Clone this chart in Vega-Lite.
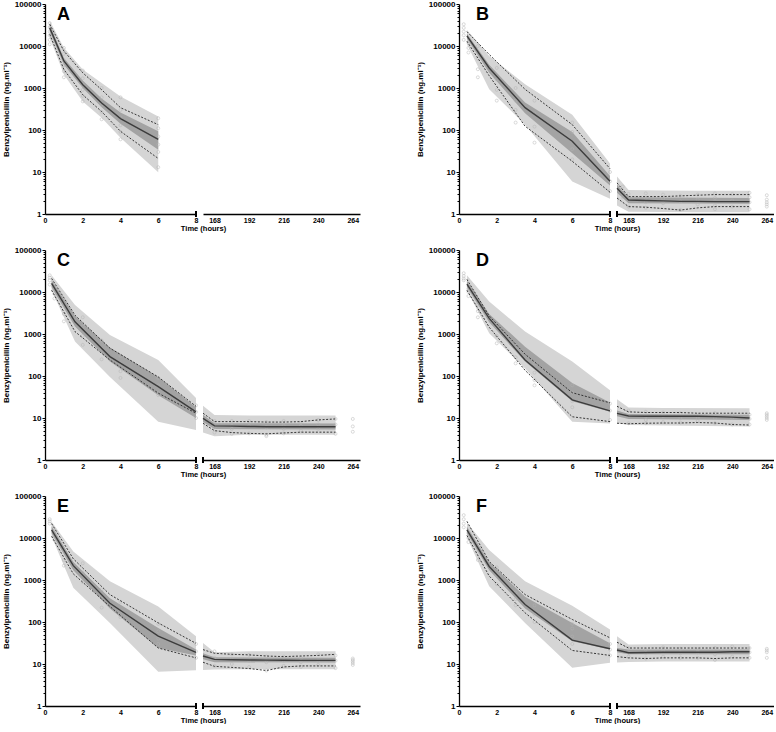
{
  "$schema": "https://vega.github.io/schema/vega-lite/v6.json",
  "padding": {"left": 2, "top": 0, "right": 0, "bottom": 0},
  "config": {
    "view": {"stroke": null},
    "font": "Liberation Sans",
    "axis": {
      "grid": false, "labelFont": "Liberation Sans", "labelFontWeight": "bold", "labelFontSize": 8, "labelColor": "black",
      "titleFont": "Liberation Sans", "titleFontWeight": "bold", "titleFontSize": 8, "titleColor": "black",
      "domainColor": "black", "domainWidth": 1.3, "tickColor": "black", "tickWidth": 1, "labelFlush": false, "labelOverlap": false
    },
    "axisX": {"ticks": false, "labelPadding": 2, "labelFontSize": 7, "titleFontSize": 7.5, "titleX": 158, "titleY": 16.5, "titleAlign": "center", "titleBaseline": "alphabetic"},
    "title": {"anchor": "start", "frame": "group", "offset": -24, "baseline": "alphabetic", "fontSize": 18, "fontWeight": "bold", "font": "Liberation Sans", "color": "black"}
  },
  "data": {"values": [
    {"p":"A","s":0,"k":"pi","t":0.25,"y":16000,"y2":40000},{"p":"A","s":0,"k":"pi","t":1,"y":2100,"y2":9100},{"p":"A","s":0,"k":"pi","t":2,"y":480,"y2":2760},{"p":"A","s":0,"k":"pi","t":3,"y":195,"y2":1320},{"p":"A","s":0,"k":"pi","t":4,"y":65,"y2":630},{"p":"A","s":0,"k":"pi","t":6,"y":9.8,"y2":210},
    {"p":"A","s":0,"k":"ci","t":0.25,"y":22000,"y2":32000},{"p":"A","s":0,"k":"ci","t":1,"y":3600,"y2":5200},{"p":"A","s":0,"k":"ci","t":2,"y":1000,"y2":1500},{"p":"A","s":0,"k":"ci","t":3,"y":350,"y2":560},{"p":"A","s":0,"k":"ci","t":4,"y":140,"y2":260},{"p":"A","s":0,"k":"ci","t":6,"y":34,"y2":93},
    {"p":"A","s":0,"k":"med","t":0.25,"y":27000},{"p":"A","s":0,"k":"med","t":1,"y":4400},{"p":"A","s":0,"k":"med","t":2,"y":1200},{"p":"A","s":0,"k":"med","t":3,"y":440},{"p":"A","s":0,"k":"med","t":4,"y":187},{"p":"A","s":0,"k":"med","t":6,"y":60},
    {"p":"A","s":0,"k":"up","t":0.25,"y":33000},{"p":"A","s":0,"k":"up","t":1,"y":7600},{"p":"A","s":0,"k":"up","t":2,"y":2300},{"p":"A","s":0,"k":"up","t":3,"y":910},{"p":"A","s":0,"k":"up","t":4,"y":340},{"p":"A","s":0,"k":"up","t":6,"y":134},
    {"p":"A","s":0,"k":"dn","t":0.25,"y":19000},{"p":"A","s":0,"k":"dn","t":1,"y":2760},{"p":"A","s":0,"k":"dn","t":2,"y":690},{"p":"A","s":0,"k":"dn","t":3,"y":275},{"p":"A","s":0,"k":"dn","t":4,"y":93},{"p":"A","s":0,"k":"dn","t":6,"y":21},
    {"p":"A","s":0,"k":"obs","t":0.25,"y":35000},{"p":"A","s":0,"k":"obs","t":0.25,"y":28000},{"p":"A","s":0,"k":"obs","t":0.25,"y":22000},{"p":"A","s":0,"k":"obs","t":0.25,"y":18000},{"p":"A","s":0,"k":"obs","t":0.25,"y":14000},{"p":"A","s":0,"k":"obs","t":0.25,"y":11000},
    {"p":"A","s":0,"k":"obs","t":1,"y":9000},{"p":"A","s":0,"k":"obs","t":1,"y":6500},{"p":"A","s":0,"k":"obs","t":1,"y":4500},{"p":"A","s":0,"k":"obs","t":1,"y":3500},{"p":"A","s":0,"k":"obs","t":1,"y":2500},{"p":"A","s":0,"k":"obs","t":1,"y":1800},
    {"p":"A","s":0,"k":"obs","t":2,"y":2600},{"p":"A","s":0,"k":"obs","t":2,"y":1700},{"p":"A","s":0,"k":"obs","t":2,"y":1200},{"p":"A","s":0,"k":"obs","t":2,"y":900},{"p":"A","s":0,"k":"obs","t":2,"y":650},{"p":"A","s":0,"k":"obs","t":2,"y":480},
    {"p":"A","s":0,"k":"obs","t":3,"y":1000},{"p":"A","s":0,"k":"obs","t":3,"y":600},{"p":"A","s":0,"k":"obs","t":3,"y":400},{"p":"A","s":0,"k":"obs","t":3,"y":270},{"p":"A","s":0,"k":"obs","t":3,"y":180},
    {"p":"A","s":0,"k":"obs","t":4,"y":600},{"p":"A","s":0,"k":"obs","t":4,"y":300},{"p":"A","s":0,"k":"obs","t":4,"y":200},{"p":"A","s":0,"k":"obs","t":4,"y":130},{"p":"A","s":0,"k":"obs","t":4,"y":90},{"p":"A","s":0,"k":"obs","t":4,"y":60},
    {"p":"A","s":0,"k":"obs","t":6,"y":190},{"p":"A","s":0,"k":"obs","t":6,"y":110},{"p":"A","s":0,"k":"obs","t":6,"y":70},{"p":"A","s":0,"k":"obs","t":6,"y":45},{"p":"A","s":0,"k":"obs","t":6,"y":30},{"p":"A","s":0,"k":"obs","t":6,"y":13},

    {"p":"B","s":0,"k":"pi","t":0.42,"y":11000,"y2":24000},{"p":"B","s":0,"k":"pi","t":1.6,"y":930,"y2":5800},{"p":"B","s":0,"k":"pi","t":3.5,"y":134,"y2":1230},{"p":"B","s":0,"k":"pi","t":6,"y":5.9,"y2":230},{"p":"B","s":0,"k":"pi","t":8,"y":2.3,"y2":16},
    {"p":"B","s":0,"k":"ci","t":0.42,"y":15000,"y2":19500},{"p":"B","s":0,"k":"ci","t":1.6,"y":2300,"y2":3600},{"p":"B","s":0,"k":"ci","t":3.5,"y":250,"y2":450},{"p":"B","s":0,"k":"ci","t":6,"y":28,"y2":90},{"p":"B","s":0,"k":"ci","t":8,"y":4.8,"y2":8},
    {"p":"B","s":0,"k":"med","t":0.42,"y":17400},{"p":"B","s":0,"k":"med","t":1.6,"y":3000},{"p":"B","s":0,"k":"med","t":3.5,"y":340},{"p":"B","s":0,"k":"med","t":6,"y":54},{"p":"B","s":0,"k":"med","t":8,"y":6},
    {"p":"B","s":0,"k":"up","t":0.42,"y":22000},{"p":"B","s":0,"k":"up","t":1.6,"y":6300},{"p":"B","s":0,"k":"up","t":3.5,"y":930},{"p":"B","s":0,"k":"up","t":6,"y":134},{"p":"B","s":0,"k":"up","t":8,"y":12},
    {"p":"B","s":0,"k":"dn","t":0.42,"y":13000},{"p":"B","s":0,"k":"dn","t":1.6,"y":1960},{"p":"B","s":0,"k":"dn","t":3.5,"y":123},{"p":"B","s":0,"k":"dn","t":6,"y":18},{"p":"B","s":0,"k":"dn","t":8,"y":3.3},
    {"p":"B","s":0,"k":"obs","t":0.25,"y":33000},{"p":"B","s":0,"k":"obs","t":0.25,"y":27000},{"p":"B","s":0,"k":"obs","t":0.25,"y":22000},{"p":"B","s":0,"k":"obs","t":0.25,"y":18000},{"p":"B","s":0,"k":"obs","t":0.25,"y":14000},
    {"p":"B","s":0,"k":"obs","t":0.5,"y":12000},{"p":"B","s":0,"k":"obs","t":0.5,"y":9000},{"p":"B","s":0,"k":"obs","t":0.5,"y":7000},
    {"p":"B","s":0,"k":"obs","t":1,"y":10000},{"p":"B","s":0,"k":"obs","t":1,"y":5000},{"p":"B","s":0,"k":"obs","t":1,"y":2800},{"p":"B","s":0,"k":"obs","t":1,"y":1800},
    {"p":"B","s":0,"k":"obs","t":2,"y":3000},{"p":"B","s":0,"k":"obs","t":2,"y":1600},{"p":"B","s":0,"k":"obs","t":2,"y":900},{"p":"B","s":0,"k":"obs","t":2,"y":500},
    {"p":"B","s":0,"k":"obs","t":3,"y":1000},{"p":"B","s":0,"k":"obs","t":3,"y":500},{"p":"B","s":0,"k":"obs","t":3,"y":300},{"p":"B","s":0,"k":"obs","t":3,"y":150},
    {"p":"B","s":0,"k":"obs","t":4,"y":500},{"p":"B","s":0,"k":"obs","t":4,"y":250},{"p":"B","s":0,"k":"obs","t":4,"y":120},{"p":"B","s":0,"k":"obs","t":4,"y":50},
    {"p":"B","s":0,"k":"obs","t":6,"y":150},{"p":"B","s":0,"k":"obs","t":6,"y":90},{"p":"B","s":0,"k":"obs","t":6,"y":35},{"p":"B","s":0,"k":"obs","t":6,"y":20},
    {"p":"B","s":0,"k":"obs","t":8,"y":10},{"p":"B","s":0,"k":"obs","t":8,"y":6},{"p":"B","s":0,"k":"obs","t":8,"y":3.5},
    {"p":"B","s":1,"k":"pi","t":160,"y":1.6,"y2":7.8},{"p":"B","s":1,"k":"pi","t":168,"y":1.13,"y2":3.75},{"p":"B","s":1,"k":"pi","t":192,"y":1.12,"y2":3.65},{"p":"B","s":1,"k":"pi","t":216,"y":1.1,"y2":3.6},{"p":"B","s":1,"k":"pi","t":252,"y":1.1,"y2":3.6},
    {"p":"B","s":1,"k":"ci","t":160,"y":3.2,"y2":5},{"p":"B","s":1,"k":"ci","t":168,"y":1.8,"y2":2.5},{"p":"B","s":1,"k":"ci","t":252,"y":1.75,"y2":2.4},
    {"p":"B","s":1,"k":"med","t":160,"y":4.1},{"p":"B","s":1,"k":"med","t":168,"y":2.16},{"p":"B","s":1,"k":"med","t":180,"y":2.1},{"p":"B","s":1,"k":"med","t":192,"y":2.05},{"p":"B","s":1,"k":"med","t":204,"y":2.0},{"p":"B","s":1,"k":"med","t":216,"y":2.0},{"p":"B","s":1,"k":"med","t":228,"y":1.97},{"p":"B","s":1,"k":"med","t":240,"y":1.97},{"p":"B","s":1,"k":"med","t":252,"y":1.97},
    {"p":"B","s":1,"k":"up","t":160,"y":5.5},{"p":"B","s":1,"k":"up","t":168,"y":2.6},{"p":"B","s":1,"k":"up","t":180,"y":2.6},{"p":"B","s":1,"k":"up","t":192,"y":2.6},{"p":"B","s":1,"k":"up","t":204,"y":2.7},{"p":"B","s":1,"k":"up","t":216,"y":2.8},{"p":"B","s":1,"k":"up","t":228,"y":2.9},{"p":"B","s":1,"k":"up","t":240,"y":2.9},{"p":"B","s":1,"k":"up","t":252,"y":2.9},
    {"p":"B","s":1,"k":"dn","t":160,"y":2.4},{"p":"B","s":1,"k":"dn","t":168,"y":1.5},{"p":"B","s":1,"k":"dn","t":180,"y":1.45},{"p":"B","s":1,"k":"dn","t":192,"y":1.35},{"p":"B","s":1,"k":"dn","t":204,"y":1.24},{"p":"B","s":1,"k":"dn","t":216,"y":1.4},{"p":"B","s":1,"k":"dn","t":228,"y":1.5},{"p":"B","s":1,"k":"dn","t":240,"y":1.5},{"p":"B","s":1,"k":"dn","t":252,"y":1.5},
    {"p":"B","s":1,"k":"obs","t":164,"y":4.5},{"p":"B","s":1,"k":"obs","t":164,"y":3.5},{"p":"B","s":1,"k":"obs","t":164,"y":2.5},
    {"p":"B","s":1,"k":"obs","t":168,"y":3.0},{"p":"B","s":1,"k":"obs","t":168,"y":2.2},{"p":"B","s":1,"k":"obs","t":168,"y":1.5},
    {"p":"B","s":1,"k":"obs","t":180,"y":3.1},{"p":"B","s":1,"k":"obs","t":180,"y":2.4},{"p":"B","s":1,"k":"obs","t":180,"y":1.9},{"p":"B","s":1,"k":"obs","t":180,"y":1.4},
    {"p":"B","s":1,"k":"obs","t":192,"y":2.9},{"p":"B","s":1,"k":"obs","t":192,"y":2.3},{"p":"B","s":1,"k":"obs","t":192,"y":1.8},
    {"p":"B","s":1,"k":"obs","t":204,"y":2.7},{"p":"B","s":1,"k":"obs","t":204,"y":2.0},{"p":"B","s":1,"k":"obs","t":204,"y":1.25},
    {"p":"B","s":1,"k":"obs","t":216,"y":2.9},{"p":"B","s":1,"k":"obs","t":216,"y":2.2},{"p":"B","s":1,"k":"obs","t":216,"y":1.7},
    {"p":"B","s":1,"k":"obs","t":228,"y":3.1},{"p":"B","s":1,"k":"obs","t":228,"y":2.4},{"p":"B","s":1,"k":"obs","t":228,"y":1.6},{"p":"B","s":1,"k":"obs","t":228,"y":1.3},
    {"p":"B","s":1,"k":"obs","t":240,"y":3.0},{"p":"B","s":1,"k":"obs","t":240,"y":2.1},{"p":"B","s":1,"k":"obs","t":240,"y":1.5},
    {"p":"B","s":1,"k":"obs","t":252,"y":3.2},{"p":"B","s":1,"k":"obs","t":252,"y":2.5},{"p":"B","s":1,"k":"obs","t":252,"y":1.9},{"p":"B","s":1,"k":"obs","t":252,"y":1.3},
    {"p":"B","s":1,"k":"obs","t":264,"y":2.8},{"p":"B","s":1,"k":"obs","t":264,"y":2.2},{"p":"B","s":1,"k":"obs","t":264,"y":1.9},{"p":"B","s":1,"k":"obs","t":264,"y":1.7},{"p":"B","s":1,"k":"obs","t":264,"y":1.5},

    {"p":"C","s":0,"k":"pi","t":0.35,"y":11000,"y2":25000},{"p":"C","s":0,"k":"pi","t":1.59,"y":660,"y2":4900},{"p":"C","s":0,"k":"pi","t":3.44,"y":95,"y2":950},{"p":"C","s":0,"k":"pi","t":6,"y":8.1,"y2":240},{"p":"C","s":0,"k":"pi","t":8,"y":5.2,"y2":30},
    {"p":"C","s":0,"k":"ci","t":0.35,"y":13000,"y2":19000},{"p":"C","s":0,"k":"ci","t":1.59,"y":1500,"y2":2700},{"p":"C","s":0,"k":"ci","t":3.44,"y":220,"y2":480},{"p":"C","s":0,"k":"ci","t":6,"y":35,"y2":95},{"p":"C","s":0,"k":"ci","t":8,"y":10,"y2":18},
    {"p":"C","s":0,"k":"med","t":0.35,"y":16000},{"p":"C","s":0,"k":"med","t":1.59,"y":1950},{"p":"C","s":0,"k":"med","t":3.44,"y":290},{"p":"C","s":0,"k":"med","t":6,"y":56},{"p":"C","s":0,"k":"med","t":8,"y":14},
    {"p":"C","s":0,"k":"up","t":0.35,"y":21000},{"p":"C","s":0,"k":"up","t":1.59,"y":2800},{"p":"C","s":0,"k":"up","t":3.44,"y":460},{"p":"C","s":0,"k":"up","t":6,"y":95},{"p":"C","s":0,"k":"up","t":8,"y":19},
    {"p":"C","s":0,"k":"dn","t":0.35,"y":11000},{"p":"C","s":0,"k":"dn","t":1.59,"y":1140},{"p":"C","s":0,"k":"dn","t":3.44,"y":240},{"p":"C","s":0,"k":"dn","t":6,"y":39},{"p":"C","s":0,"k":"dn","t":8,"y":13},
    {"p":"C","s":0,"k":"obs","t":0.25,"y":25000},{"p":"C","s":0,"k":"obs","t":0.25,"y":22000},{"p":"C","s":0,"k":"obs","t":0.25,"y":19000},{"p":"C","s":0,"k":"obs","t":0.25,"y":15000},
    {"p":"C","s":0,"k":"obs","t":0.5,"y":12000},{"p":"C","s":0,"k":"obs","t":0.5,"y":9000},{"p":"C","s":0,"k":"obs","t":0.5,"y":7000},
    {"p":"C","s":0,"k":"obs","t":1,"y":5000},{"p":"C","s":0,"k":"obs","t":1,"y":3000},{"p":"C","s":0,"k":"obs","t":1,"y":2000},
    {"p":"C","s":0,"k":"obs","t":2,"y":2500},{"p":"C","s":0,"k":"obs","t":2,"y":1500},{"p":"C","s":0,"k":"obs","t":2,"y":900},{"p":"C","s":0,"k":"obs","t":2,"y":550},
    {"p":"C","s":0,"k":"obs","t":3,"y":700},{"p":"C","s":0,"k":"obs","t":3,"y":450},{"p":"C","s":0,"k":"obs","t":3,"y":250},
    {"p":"C","s":0,"k":"obs","t":4,"y":300},{"p":"C","s":0,"k":"obs","t":4,"y":200},{"p":"C","s":0,"k":"obs","t":4,"y":130},{"p":"C","s":0,"k":"obs","t":4,"y":90},
    {"p":"C","s":0,"k":"obs","t":6,"y":90},{"p":"C","s":0,"k":"obs","t":6,"y":60},{"p":"C","s":0,"k":"obs","t":6,"y":40},{"p":"C","s":0,"k":"obs","t":6,"y":35},
    {"p":"C","s":0,"k":"obs","t":8,"y":20},{"p":"C","s":0,"k":"obs","t":8,"y":14},{"p":"C","s":0,"k":"obs","t":8,"y":10},
    {"p":"C","s":1,"k":"pi","t":160,"y":4.5,"y2":19.5},{"p":"C","s":1,"k":"pi","t":168,"y":3.7,"y2":11.8},{"p":"C","s":1,"k":"pi","t":192,"y":4.0,"y2":11.5},{"p":"C","s":1,"k":"pi","t":252,"y":4.0,"y2":11.5},
    {"p":"C","s":1,"k":"ci","t":160,"y":8,"y2":12},{"p":"C","s":1,"k":"ci","t":168,"y":5.5,"y2":7.5},{"p":"C","s":1,"k":"ci","t":252,"y":5.3,"y2":7.4},
    {"p":"C","s":1,"k":"med","t":160,"y":9.8},{"p":"C","s":1,"k":"med","t":168,"y":6.5},{"p":"C","s":1,"k":"med","t":180,"y":6.4},{"p":"C","s":1,"k":"med","t":192,"y":6.3},{"p":"C","s":1,"k":"med","t":204,"y":6.2},{"p":"C","s":1,"k":"med","t":216,"y":6.2},{"p":"C","s":1,"k":"med","t":228,"y":6.2},{"p":"C","s":1,"k":"med","t":240,"y":6.2},{"p":"C","s":1,"k":"med","t":252,"y":6.2},
    {"p":"C","s":1,"k":"up","t":160,"y":13},{"p":"C","s":1,"k":"up","t":168,"y":8.2},{"p":"C","s":1,"k":"up","t":180,"y":8.2},{"p":"C","s":1,"k":"up","t":192,"y":8.2},{"p":"C","s":1,"k":"up","t":204,"y":8.0},{"p":"C","s":1,"k":"up","t":216,"y":8.0},{"p":"C","s":1,"k":"up","t":228,"y":8.2},{"p":"C","s":1,"k":"up","t":240,"y":9.0},{"p":"C","s":1,"k":"up","t":252,"y":9.5},
    {"p":"C","s":1,"k":"dn","t":160,"y":7.5},{"p":"C","s":1,"k":"dn","t":168,"y":5},{"p":"C","s":1,"k":"dn","t":180,"y":4.5},{"p":"C","s":1,"k":"dn","t":192,"y":4.3},{"p":"C","s":1,"k":"dn","t":204,"y":4.2},{"p":"C","s":1,"k":"dn","t":216,"y":4.4},{"p":"C","s":1,"k":"dn","t":228,"y":4.6},{"p":"C","s":1,"k":"dn","t":240,"y":4.6},{"p":"C","s":1,"k":"dn","t":252,"y":4.6},
    {"p":"C","s":1,"k":"obs","t":168,"y":8.5},{"p":"C","s":1,"k":"obs","t":168,"y":6},{"p":"C","s":1,"k":"obs","t":168,"y":4.5},
    {"p":"C","s":1,"k":"obs","t":180,"y":8.5},{"p":"C","s":1,"k":"obs","t":180,"y":6.5},{"p":"C","s":1,"k":"obs","t":180,"y":5.5},{"p":"C","s":1,"k":"obs","t":180,"y":4.2},
    {"p":"C","s":1,"k":"obs","t":192,"y":8.5},{"p":"C","s":1,"k":"obs","t":192,"y":6.5},{"p":"C","s":1,"k":"obs","t":192,"y":4.3},
    {"p":"C","s":1,"k":"obs","t":204,"y":8},{"p":"C","s":1,"k":"obs","t":204,"y":6},{"p":"C","s":1,"k":"obs","t":204,"y":4},{"p":"C","s":1,"k":"obs","t":204,"y":3.7},
    {"p":"C","s":1,"k":"obs","t":216,"y":8.5},{"p":"C","s":1,"k":"obs","t":216,"y":6.5},{"p":"C","s":1,"k":"obs","t":216,"y":5.5},{"p":"C","s":1,"k":"obs","t":216,"y":4.3},
    {"p":"C","s":1,"k":"obs","t":228,"y":7.5},{"p":"C","s":1,"k":"obs","t":228,"y":6.5},{"p":"C","s":1,"k":"obs","t":228,"y":5},
    {"p":"C","s":1,"k":"obs","t":240,"y":9},{"p":"C","s":1,"k":"obs","t":240,"y":7},{"p":"C","s":1,"k":"obs","t":240,"y":5.5},
    {"p":"C","s":1,"k":"obs","t":252,"y":9.5},{"p":"C","s":1,"k":"obs","t":252,"y":7},{"p":"C","s":1,"k":"obs","t":252,"y":4.2},
    {"p":"C","s":1,"k":"obs","t":264,"y":9.5},{"p":"C","s":1,"k":"obs","t":264,"y":6.3},{"p":"C","s":1,"k":"obs","t":264,"y":4.7},

    {"p":"D","s":0,"k":"pi","t":0.42,"y":11000,"y2":25000},{"p":"D","s":0,"k":"pi","t":1.6,"y":1040,"y2":5900},{"p":"D","s":0,"k":"pi","t":3.5,"y":150,"y2":1150},{"p":"D","s":0,"k":"pi","t":6,"y":8.1,"y2":220},{"p":"D","s":0,"k":"pi","t":8,"y":7.4,"y2":46},
    {"p":"D","s":0,"k":"ci","t":0.42,"y":13000,"y2":18500},{"p":"D","s":0,"k":"ci","t":1.6,"y":1900,"y2":3000},{"p":"D","s":0,"k":"ci","t":3.5,"y":220,"y2":500},{"p":"D","s":0,"k":"ci","t":6,"y":25,"y2":68},{"p":"D","s":0,"k":"ci","t":8,"y":14,"y2":23.5},
    {"p":"D","s":0,"k":"med","t":0.42,"y":15500},{"p":"D","s":0,"k":"med","t":1.6,"y":2350},{"p":"D","s":0,"k":"med","t":3.5,"y":240},{"p":"D","s":0,"k":"med","t":6,"y":27},{"p":"D","s":0,"k":"med","t":8,"y":14.8},
    {"p":"D","s":0,"k":"up","t":0.42,"y":20000},{"p":"D","s":0,"k":"up","t":1.6,"y":2700},{"p":"D","s":0,"k":"up","t":3.5,"y":330},{"p":"D","s":0,"k":"up","t":6,"y":40},{"p":"D","s":0,"k":"up","t":8,"y":23},
    {"p":"D","s":0,"k":"dn","t":0.42,"y":11000},{"p":"D","s":0,"k":"dn","t":1.6,"y":1450},{"p":"D","s":0,"k":"dn","t":3.5,"y":137},{"p":"D","s":0,"k":"dn","t":6,"y":10.7},{"p":"D","s":0,"k":"dn","t":8,"y":8.2},
    {"p":"D","s":0,"k":"obs","t":0.25,"y":28000},{"p":"D","s":0,"k":"obs","t":0.25,"y":24000},{"p":"D","s":0,"k":"obs","t":0.25,"y":21000},{"p":"D","s":0,"k":"obs","t":0.25,"y":19000},
    {"p":"D","s":0,"k":"obs","t":0.5,"y":12000},{"p":"D","s":0,"k":"obs","t":0.5,"y":10000},{"p":"D","s":0,"k":"obs","t":0.5,"y":8000},
    {"p":"D","s":0,"k":"obs","t":1,"y":5000},{"p":"D","s":0,"k":"obs","t":1,"y":3500},{"p":"D","s":0,"k":"obs","t":1,"y":2500},
    {"p":"D","s":0,"k":"obs","t":2,"y":1500},{"p":"D","s":0,"k":"obs","t":2,"y":900},{"p":"D","s":0,"k":"obs","t":2,"y":600},
    {"p":"D","s":0,"k":"obs","t":3,"y":450},{"p":"D","s":0,"k":"obs","t":3,"y":280},{"p":"D","s":0,"k":"obs","t":3,"y":200},
    {"p":"D","s":0,"k":"obs","t":4,"y":200},{"p":"D","s":0,"k":"obs","t":4,"y":120},{"p":"D","s":0,"k":"obs","t":4,"y":80},{"p":"D","s":0,"k":"obs","t":4,"y":60},
    {"p":"D","s":0,"k":"obs","t":6,"y":60},{"p":"D","s":0,"k":"obs","t":6,"y":40},{"p":"D","s":0,"k":"obs","t":6,"y":25},{"p":"D","s":0,"k":"obs","t":6,"y":18},
    {"p":"D","s":0,"k":"obs","t":8,"y":22},{"p":"D","s":0,"k":"obs","t":8,"y":15},{"p":"D","s":0,"k":"obs","t":8,"y":9},
    {"p":"D","s":1,"k":"pi","t":160,"y":7.5,"y2":28},{"p":"D","s":1,"k":"pi","t":168,"y":6.8,"y2":17.8},{"p":"D","s":1,"k":"pi","t":192,"y":6.6,"y2":17.2},{"p":"D","s":1,"k":"pi","t":252,"y":6.3,"y2":17},
    {"p":"D","s":1,"k":"ci","t":160,"y":11,"y2":15},{"p":"D","s":1,"k":"ci","t":168,"y":9.5,"y2":12.5},{"p":"D","s":1,"k":"ci","t":252,"y":9.0,"y2":12},
    {"p":"D","s":1,"k":"med","t":160,"y":12.9},{"p":"D","s":1,"k":"med","t":168,"y":11.2},{"p":"D","s":1,"k":"med","t":180,"y":11},{"p":"D","s":1,"k":"med","t":192,"y":11},{"p":"D","s":1,"k":"med","t":204,"y":11},{"p":"D","s":1,"k":"med","t":216,"y":11},{"p":"D","s":1,"k":"med","t":228,"y":10.8},{"p":"D","s":1,"k":"med","t":240,"y":10.5},{"p":"D","s":1,"k":"med","t":252,"y":10},
    {"p":"D","s":1,"k":"up","t":160,"y":19},{"p":"D","s":1,"k":"up","t":168,"y":14},{"p":"D","s":1,"k":"up","t":180,"y":13.5},{"p":"D","s":1,"k":"up","t":192,"y":13.5},{"p":"D","s":1,"k":"up","t":204,"y":13.5},{"p":"D","s":1,"k":"up","t":216,"y":13},{"p":"D","s":1,"k":"up","t":228,"y":13},{"p":"D","s":1,"k":"up","t":240,"y":13},{"p":"D","s":1,"k":"up","t":252,"y":13},
    {"p":"D","s":1,"k":"dn","t":160,"y":7.5},{"p":"D","s":1,"k":"dn","t":168,"y":7.3},{"p":"D","s":1,"k":"dn","t":180,"y":7.5},{"p":"D","s":1,"k":"dn","t":192,"y":7.6},{"p":"D","s":1,"k":"dn","t":204,"y":7.6},{"p":"D","s":1,"k":"dn","t":216,"y":7.8},{"p":"D","s":1,"k":"dn","t":228,"y":7.6},{"p":"D","s":1,"k":"dn","t":240,"y":7.0},{"p":"D","s":1,"k":"dn","t":252,"y":6.8},
    {"p":"D","s":1,"k":"obs","t":168,"y":15},{"p":"D","s":1,"k":"obs","t":168,"y":11},{"p":"D","s":1,"k":"obs","t":168,"y":7.5},
    {"p":"D","s":1,"k":"obs","t":180,"y":14},{"p":"D","s":1,"k":"obs","t":180,"y":11},{"p":"D","s":1,"k":"obs","t":180,"y":9},{"p":"D","s":1,"k":"obs","t":180,"y":7.5},
    {"p":"D","s":1,"k":"obs","t":192,"y":13.5},{"p":"D","s":1,"k":"obs","t":192,"y":11},{"p":"D","s":1,"k":"obs","t":192,"y":8},
    {"p":"D","s":1,"k":"obs","t":204,"y":13},{"p":"D","s":1,"k":"obs","t":204,"y":10},{"p":"D","s":1,"k":"obs","t":204,"y":7.8},
    {"p":"D","s":1,"k":"obs","t":216,"y":12},{"p":"D","s":1,"k":"obs","t":216,"y":10},{"p":"D","s":1,"k":"obs","t":216,"y":8.5},
    {"p":"D","s":1,"k":"obs","t":228,"y":13},{"p":"D","s":1,"k":"obs","t":228,"y":10},{"p":"D","s":1,"k":"obs","t":228,"y":7.5},
    {"p":"D","s":1,"k":"obs","t":240,"y":12.5},{"p":"D","s":1,"k":"obs","t":240,"y":10},{"p":"D","s":1,"k":"obs","t":240,"y":7},
    {"p":"D","s":1,"k":"obs","t":252,"y":12},{"p":"D","s":1,"k":"obs","t":252,"y":9.5},{"p":"D","s":1,"k":"obs","t":252,"y":7},
    {"p":"D","s":1,"k":"obs","t":264,"y":13},{"p":"D","s":1,"k":"obs","t":264,"y":12},{"p":"D","s":1,"k":"obs","t":264,"y":11},{"p":"D","s":1,"k":"obs","t":264,"y":10},{"p":"D","s":1,"k":"obs","t":264,"y":9},

    {"p":"E","s":0,"k":"pi","t":0.35,"y":10800,"y2":24500},{"p":"E","s":0,"k":"pi","t":1.5,"y":650,"y2":4800},{"p":"E","s":0,"k":"pi","t":3.44,"y":95,"y2":930},{"p":"E","s":0,"k":"pi","t":6,"y":6.5,"y2":235},{"p":"E","s":0,"k":"pi","t":8,"y":7.1,"y2":46},
    {"p":"E","s":0,"k":"ci","t":0.35,"y":13000,"y2":19000},{"p":"E","s":0,"k":"ci","t":1.5,"y":1700,"y2":2700},{"p":"E","s":0,"k":"ci","t":3.44,"y":210,"y2":370},{"p":"E","s":0,"k":"ci","t":6,"y":24,"y2":72},{"p":"E","s":0,"k":"ci","t":8,"y":16,"y2":22},
    {"p":"E","s":0,"k":"med","t":0.35,"y":15600},{"p":"E","s":0,"k":"med","t":1.5,"y":2200},{"p":"E","s":0,"k":"med","t":3.44,"y":280},{"p":"E","s":0,"k":"med","t":6,"y":46},{"p":"E","s":0,"k":"med","t":8,"y":19},
    {"p":"E","s":0,"k":"up","t":0.35,"y":22000},{"p":"E","s":0,"k":"up","t":1.5,"y":3200},{"p":"E","s":0,"k":"up","t":3.44,"y":450},{"p":"E","s":0,"k":"up","t":6,"y":95},{"p":"E","s":0,"k":"up","t":8,"y":31},
    {"p":"E","s":0,"k":"dn","t":0.35,"y":11000},{"p":"E","s":0,"k":"dn","t":1.5,"y":1400},{"p":"E","s":0,"k":"dn","t":3.44,"y":235},{"p":"E","s":0,"k":"dn","t":6,"y":24},{"p":"E","s":0,"k":"dn","t":8,"y":14},
    {"p":"E","s":0,"k":"obs","t":0.25,"y":28000},{"p":"E","s":0,"k":"obs","t":0.25,"y":25000},{"p":"E","s":0,"k":"obs","t":0.25,"y":22000},
    {"p":"E","s":0,"k":"obs","t":0.5,"y":14000},{"p":"E","s":0,"k":"obs","t":0.5,"y":11000},{"p":"E","s":0,"k":"obs","t":0.5,"y":9000},
    {"p":"E","s":0,"k":"obs","t":1,"y":5000},{"p":"E","s":0,"k":"obs","t":1,"y":3000},{"p":"E","s":0,"k":"obs","t":1,"y":2200},
    {"p":"E","s":0,"k":"obs","t":2,"y":2500},{"p":"E","s":0,"k":"obs","t":2,"y":1500},{"p":"E","s":0,"k":"obs","t":2,"y":900},
    {"p":"E","s":0,"k":"obs","t":3,"y":600},{"p":"E","s":0,"k":"obs","t":3,"y":400},{"p":"E","s":0,"k":"obs","t":3,"y":220},
    {"p":"E","s":0,"k":"obs","t":4,"y":300},{"p":"E","s":0,"k":"obs","t":4,"y":180},{"p":"E","s":0,"k":"obs","t":4,"y":130},
    {"p":"E","s":0,"k":"obs","t":6,"y":90},{"p":"E","s":0,"k":"obs","t":6,"y":60},{"p":"E","s":0,"k":"obs","t":6,"y":40},{"p":"E","s":0,"k":"obs","t":6,"y":30},
    {"p":"E","s":0,"k":"obs","t":8,"y":30},{"p":"E","s":0,"k":"obs","t":8,"y":20},{"p":"E","s":0,"k":"obs","t":8,"y":14},
    {"p":"E","s":1,"k":"pi","t":160,"y":7.2,"y2":31.5},{"p":"E","s":1,"k":"pi","t":168,"y":7.4,"y2":19},{"p":"E","s":1,"k":"pi","t":192,"y":7.5,"y2":20},{"p":"E","s":1,"k":"pi","t":252,"y":7.5,"y2":20},
    {"p":"E","s":1,"k":"ci","t":160,"y":13,"y2":18},{"p":"E","s":1,"k":"ci","t":168,"y":11,"y2":14.5},{"p":"E","s":1,"k":"ci","t":252,"y":10.8,"y2":14},
    {"p":"E","s":1,"k":"med","t":160,"y":15.5},{"p":"E","s":1,"k":"med","t":168,"y":12.9},{"p":"E","s":1,"k":"med","t":180,"y":12.6},{"p":"E","s":1,"k":"med","t":192,"y":12.5},{"p":"E","s":1,"k":"med","t":204,"y":12.4},{"p":"E","s":1,"k":"med","t":216,"y":12.3},{"p":"E","s":1,"k":"med","t":228,"y":12.2},{"p":"E","s":1,"k":"med","t":240,"y":12.2},{"p":"E","s":1,"k":"med","t":252,"y":12.2},
    {"p":"E","s":1,"k":"up","t":160,"y":22},{"p":"E","s":1,"k":"up","t":168,"y":18},{"p":"E","s":1,"k":"up","t":180,"y":17},{"p":"E","s":1,"k":"up","t":192,"y":16.5},{"p":"E","s":1,"k":"up","t":204,"y":15.5},{"p":"E","s":1,"k":"up","t":216,"y":15},{"p":"E","s":1,"k":"up","t":228,"y":15.5},{"p":"E","s":1,"k":"up","t":240,"y":16},{"p":"E","s":1,"k":"up","t":252,"y":17},
    {"p":"E","s":1,"k":"dn","t":160,"y":11},{"p":"E","s":1,"k":"dn","t":168,"y":8.8},{"p":"E","s":1,"k":"dn","t":180,"y":8.3},{"p":"E","s":1,"k":"dn","t":192,"y":7.8},{"p":"E","s":1,"k":"dn","t":204,"y":7},{"p":"E","s":1,"k":"dn","t":216,"y":8.5},{"p":"E","s":1,"k":"dn","t":228,"y":9},{"p":"E","s":1,"k":"dn","t":240,"y":9},{"p":"E","s":1,"k":"dn","t":252,"y":9},
    {"p":"E","s":1,"k":"obs","t":168,"y":20},{"p":"E","s":1,"k":"obs","t":168,"y":14},{"p":"E","s":1,"k":"obs","t":168,"y":9},
    {"p":"E","s":1,"k":"obs","t":180,"y":17},{"p":"E","s":1,"k":"obs","t":180,"y":13},{"p":"E","s":1,"k":"obs","t":180,"y":10},
    {"p":"E","s":1,"k":"obs","t":192,"y":16.5},{"p":"E","s":1,"k":"obs","t":192,"y":12},{"p":"E","s":1,"k":"obs","t":192,"y":8.5},
    {"p":"E","s":1,"k":"obs","t":204,"y":15},{"p":"E","s":1,"k":"obs","t":204,"y":11},{"p":"E","s":1,"k":"obs","t":204,"y":7},
    {"p":"E","s":1,"k":"obs","t":216,"y":15},{"p":"E","s":1,"k":"obs","t":216,"y":12},{"p":"E","s":1,"k":"obs","t":216,"y":9},
    {"p":"E","s":1,"k":"obs","t":228,"y":14},{"p":"E","s":1,"k":"obs","t":228,"y":11},{"p":"E","s":1,"k":"obs","t":228,"y":8.5},
    {"p":"E","s":1,"k":"obs","t":240,"y":17},{"p":"E","s":1,"k":"obs","t":240,"y":12},{"p":"E","s":1,"k":"obs","t":240,"y":9.5},
    {"p":"E","s":1,"k":"obs","t":252,"y":16},{"p":"E","s":1,"k":"obs","t":252,"y":12},{"p":"E","s":1,"k":"obs","t":252,"y":8},
    {"p":"E","s":1,"k":"obs","t":264,"y":13.5},{"p":"E","s":1,"k":"obs","t":264,"y":12.5},{"p":"E","s":1,"k":"obs","t":264,"y":11.5},{"p":"E","s":1,"k":"obs","t":264,"y":10.5},{"p":"E","s":1,"k":"obs","t":264,"y":9.5},

    {"p":"F","s":0,"k":"pi","t":0.42,"y":10400,"y2":23000},{"p":"F","s":0,"k":"pi","t":1.6,"y":710,"y2":5200},{"p":"F","s":0,"k":"pi","t":3.5,"y":95,"y2":930},{"p":"F","s":0,"k":"pi","t":6,"y":8.1,"y2":245},{"p":"F","s":0,"k":"pi","t":8,"y":10.7,"y2":66},
    {"p":"F","s":0,"k":"ci","t":0.42,"y":13000,"y2":18500},{"p":"F","s":0,"k":"ci","t":1.6,"y":1700,"y2":2700},{"p":"F","s":0,"k":"ci","t":3.5,"y":210,"y2":400},{"p":"F","s":0,"k":"ci","t":6,"y":35,"y2":95},{"p":"F","s":0,"k":"ci","t":8,"y":22,"y2":31},
    {"p":"F","s":0,"k":"med","t":0.42,"y":15600},{"p":"F","s":0,"k":"med","t":1.6,"y":2100},{"p":"F","s":0,"k":"med","t":3.5,"y":260},{"p":"F","s":0,"k":"med","t":6,"y":37},{"p":"F","s":0,"k":"med","t":8,"y":23},
    {"p":"F","s":0,"k":"up","t":0.42,"y":25000},{"p":"F","s":0,"k":"up","t":1.6,"y":2750},{"p":"F","s":0,"k":"up","t":3.5,"y":450},{"p":"F","s":0,"k":"up","t":6,"y":115},{"p":"F","s":0,"k":"up","t":8,"y":42},
    {"p":"F","s":0,"k":"dn","t":0.42,"y":11500},{"p":"F","s":0,"k":"dn","t":1.6,"y":1240},{"p":"F","s":0,"k":"dn","t":3.5,"y":165},{"p":"F","s":0,"k":"dn","t":6,"y":21},{"p":"F","s":0,"k":"dn","t":8,"y":16},
    {"p":"F","s":0,"k":"obs","t":0.25,"y":35000},{"p":"F","s":0,"k":"obs","t":0.25,"y":28000},{"p":"F","s":0,"k":"obs","t":0.25,"y":22000},{"p":"F","s":0,"k":"obs","t":0.25,"y":18000},
    {"p":"F","s":0,"k":"obs","t":0.5,"y":13000},{"p":"F","s":0,"k":"obs","t":0.5,"y":10000},{"p":"F","s":0,"k":"obs","t":0.5,"y":8000},
    {"p":"F","s":0,"k":"obs","t":1,"y":7000},{"p":"F","s":0,"k":"obs","t":1,"y":4500},{"p":"F","s":0,"k":"obs","t":1,"y":3000},
    {"p":"F","s":0,"k":"obs","t":2,"y":2000},{"p":"F","s":0,"k":"obs","t":2,"y":1300},{"p":"F","s":0,"k":"obs","t":2,"y":800},
    {"p":"F","s":0,"k":"obs","t":3,"y":500},{"p":"F","s":0,"k":"obs","t":3,"y":350},{"p":"F","s":0,"k":"obs","t":3,"y":250},
    {"p":"F","s":0,"k":"obs","t":4,"y":250},{"p":"F","s":0,"k":"obs","t":4,"y":150},{"p":"F","s":0,"k":"obs","t":4,"y":100},
    {"p":"F","s":0,"k":"obs","t":6,"y":90},{"p":"F","s":0,"k":"obs","t":6,"y":70},{"p":"F","s":0,"k":"obs","t":6,"y":45},{"p":"F","s":0,"k":"obs","t":6,"y":30},
    {"p":"F","s":0,"k":"obs","t":8,"y":30},{"p":"F","s":0,"k":"obs","t":8,"y":22},{"p":"F","s":0,"k":"obs","t":8,"y":16},
    {"p":"F","s":1,"k":"pi","t":160,"y":10.8,"y2":46},{"p":"F","s":1,"k":"pi","t":168,"y":11.2,"y2":29},{"p":"F","s":1,"k":"pi","t":192,"y":11.5,"y2":30},{"p":"F","s":1,"k":"pi","t":252,"y":11.5,"y2":30},
    {"p":"F","s":1,"k":"ci","t":160,"y":19,"y2":24},{"p":"F","s":1,"k":"ci","t":168,"y":17,"y2":22},{"p":"F","s":1,"k":"ci","t":252,"y":17,"y2":22},
    {"p":"F","s":1,"k":"med","t":160,"y":21.5},{"p":"F","s":1,"k":"med","t":168,"y":18.6},{"p":"F","s":1,"k":"med","t":180,"y":18.8},{"p":"F","s":1,"k":"med","t":192,"y":19},{"p":"F","s":1,"k":"med","t":204,"y":19},{"p":"F","s":1,"k":"med","t":216,"y":19},{"p":"F","s":1,"k":"med","t":228,"y":19},{"p":"F","s":1,"k":"med","t":240,"y":19.5},{"p":"F","s":1,"k":"med","t":252,"y":19.5},
    {"p":"F","s":1,"k":"up","t":160,"y":33},{"p":"F","s":1,"k":"up","t":168,"y":24},{"p":"F","s":1,"k":"up","t":192,"y":24},{"p":"F","s":1,"k":"up","t":216,"y":24},{"p":"F","s":1,"k":"up","t":240,"y":24},{"p":"F","s":1,"k":"up","t":252,"y":24},
    {"p":"F","s":1,"k":"dn","t":160,"y":15},{"p":"F","s":1,"k":"dn","t":168,"y":14},{"p":"F","s":1,"k":"dn","t":180,"y":13.5},{"p":"F","s":1,"k":"dn","t":192,"y":14},{"p":"F","s":1,"k":"dn","t":204,"y":14},{"p":"F","s":1,"k":"dn","t":216,"y":14},{"p":"F","s":1,"k":"dn","t":228,"y":13.5},{"p":"F","s":1,"k":"dn","t":240,"y":14},{"p":"F","s":1,"k":"dn","t":252,"y":14},
    {"p":"F","s":1,"k":"obs","t":168,"y":24},{"p":"F","s":1,"k":"obs","t":168,"y":19},{"p":"F","s":1,"k":"obs","t":168,"y":15},
    {"p":"F","s":1,"k":"obs","t":180,"y":22},{"p":"F","s":1,"k":"obs","t":180,"y":18},{"p":"F","s":1,"k":"obs","t":180,"y":13.5},
    {"p":"F","s":1,"k":"obs","t":192,"y":25},{"p":"F","s":1,"k":"obs","t":192,"y":20},{"p":"F","s":1,"k":"obs","t":192,"y":15},
    {"p":"F","s":1,"k":"obs","t":204,"y":23},{"p":"F","s":1,"k":"obs","t":204,"y":18},{"p":"F","s":1,"k":"obs","t":204,"y":14},
    {"p":"F","s":1,"k":"obs","t":216,"y":22},{"p":"F","s":1,"k":"obs","t":216,"y":19},{"p":"F","s":1,"k":"obs","t":216,"y":14},
    {"p":"F","s":1,"k":"obs","t":228,"y":24},{"p":"F","s":1,"k":"obs","t":228,"y":17},{"p":"F","s":1,"k":"obs","t":228,"y":12.5},
    {"p":"F","s":1,"k":"obs","t":240,"y":26},{"p":"F","s":1,"k":"obs","t":240,"y":20},{"p":"F","s":1,"k":"obs","t":240,"y":15},
    {"p":"F","s":1,"k":"obs","t":252,"y":24},{"p":"F","s":1,"k":"obs","t":252,"y":19},{"p":"F","s":1,"k":"obs","t":252,"y":14},
    {"p":"F","s":1,"k":"obs","t":264,"y":23},{"p":"F","s":1,"k":"obs","t":264,"y":21},{"p":"F","s":1,"k":"obs","t":264,"y":19},{"p":"F","s":1,"k":"obs","t":264,"y":14}
  ]},
  "columns": 5,
  "spacing": {"row": 36, "column": 7},
  "bounds": "flush",
  "concat": [
    {"width": 151, "height": 210, "title": {"text": "A", "dx": 12},
     "transform": [{"filter": "datum.p == 'A' && datum.s == 0"}], "resolve": {"axis": {"y": "independent"}},
     "layer": [
      {"encoding": {
        "x": {"field": "t", "type": "quantitative", "scale": {"domain": [0, 8], "nice": false}, "axis": {"values": [0, 2, 4, 6, 8], "title": "Time (hours)"}},
        "y": {"field": "y", "type": "quantitative", "scale": {"type": "log", "domain": [1, 100000], "nice": false}, "axis": {"values": [1, 10, 100, 1000, 10000, 100000], "format": "d", "tickSize": 3, "labelPadding": 1, "titlePadding": 4, "title": "Benzylpenicillin (ng.ml⁻¹)"}}},
       "layer": [
        {"transform": [{"filter": "datum.k == 'pi'"}], "mark": {"type": "area", "color": "#d5d5d5"}, "encoding": {"y2": {"field": "y2"}}},
        {"transform": [{"filter": "datum.k == 'ci'"}], "mark": {"type": "area", "color": "#a3a3a3"}, "encoding": {"y2": {"field": "y2"}}},
        {"transform": [{"filter": "datum.k == 'obs'"}], "mark": {"type": "point", "shape": "circle", "filled": false, "size": 9, "strokeWidth": 0.7, "color": "#b5b5b5"}},
        {"transform": [{"filter": "datum.k == 'up'"}], "mark": {"type": "line", "color": "#262626", "strokeWidth": 0.9, "strokeDash": [2, 1.6]}},
        {"transform": [{"filter": "datum.k == 'dn'"}], "mark": {"type": "line", "color": "#262626", "strokeWidth": 0.9, "strokeDash": [2, 1.6]}},
        {"transform": [{"filter": "datum.k == 'med'"}], "mark": {"type": "line", "color": "#3c3c3c", "strokeWidth": 1.4}}
       ]},
      {"mark": {"type": "rule", "color": "black", "strokeWidth": 1.2},
       "encoding": {
        "x": {"datum": 8, "type": "quantitative", "scale": {"domain": [0, 8], "nice": false}, "axis": {"values": [0, 2, 4, 6, 8], "title": "Time (hours)"}},
        "y": {"datum": 0.87, "type": "quantitative", "scale": {"type": "log", "domain": [1, 100000], "nice": false},
              "axis": {"orient": "left", "values": [2,3,4,5,6,7,8,9,20,30,40,50,60,70,80,90,200,300,400,500,600,700,800,900,2000,3000,4000,5000,6000,7000,8000,9000,20000,30000,40000,50000,60000,70000,80000,90000], "labels": false, "domain": false, "tickSize": 2, "title": null}},
        "y2": {"datum": 1.15}}}
     ]},
    {"width": 157, "height": 210,
     "transform": [{"filter": "datum.p == 'A' && datum.s == 1"}],
     "layer": [
      {"encoding": {
        "x": {"field": "t", "type": "quantitative", "scale": {"domain": [160, 269], "nice": false}, "axis": {"values": [168, 192, 216, 240, 264], "title": null}},
        "y": {"field": "y", "type": "quantitative", "scale": {"type": "log", "domain": [1, 100000], "nice": false}, "axis": null}},
       "layer": [
        {"transform": [{"filter": "datum.k == 'pi'"}], "mark": {"type": "area", "color": "#d5d5d5"}, "encoding": {"y2": {"field": "y2"}}},
        {"transform": [{"filter": "datum.k == 'ci'"}], "mark": {"type": "area", "color": "#a3a3a3"}, "encoding": {"y2": {"field": "y2"}}},
        {"transform": [{"filter": "datum.k == 'obs'"}], "mark": {"type": "point", "shape": "circle", "filled": false, "size": 9, "strokeWidth": 0.7, "color": "#b5b5b5"}},
        {"transform": [{"filter": "datum.k == 'up'"}], "mark": {"type": "line", "color": "#262626", "strokeWidth": 0.9, "strokeDash": [2, 1.6]}},
        {"transform": [{"filter": "datum.k == 'dn'"}], "mark": {"type": "line", "color": "#262626", "strokeWidth": 0.9, "strokeDash": [2, 1.6]}},
        {"transform": [{"filter": "datum.k == 'med'"}], "mark": {"type": "line", "color": "#3c3c3c", "strokeWidth": 1.4}}
       ]},
      {"mark": {"type": "rule", "color": "black", "strokeWidth": 1.2},
       "encoding": {
        "x": {"datum": 160, "type": "quantitative", "scale": {"domain": [160, 269], "nice": false}, "axis": {"values": [168, 192, 216, 240, 264], "title": null}},
        "y": {"datum": 0.87, "type": "quantitative", "scale": {"type": "log", "domain": [1, 100000], "nice": false}, "axis": null},
        "y2": {"datum": 1.15}}}
     ]},
    {"width": 85, "height": 210, "data": {"values": []}, "mark": {"type": "point", "opacity": 0}},
    {"width": 151, "height": 210, "title": {"text": "B", "dx": 17},
     "transform": [{"filter": "datum.p == 'B' && datum.s == 0"}], "resolve": {"axis": {"y": "independent"}},
     "layer": [
      {"encoding": {
        "x": {"field": "t", "type": "quantitative", "scale": {"domain": [0, 8], "nice": false}, "axis": {"values": [0, 2, 4, 6, 8], "title": "Time (hours)"}},
        "y": {"field": "y", "type": "quantitative", "scale": {"type": "log", "domain": [1, 100000], "nice": false}, "axis": {"values": [1, 10, 100, 1000, 10000, 100000], "format": "d", "tickSize": 3, "labelPadding": 1, "titlePadding": 4, "title": "Benzylpenicillin (ng.ml⁻¹)"}}},
       "layer": [
        {"transform": [{"filter": "datum.k == 'pi'"}], "mark": {"type": "area", "color": "#d5d5d5"}, "encoding": {"y2": {"field": "y2"}}},
        {"transform": [{"filter": "datum.k == 'ci'"}], "mark": {"type": "area", "color": "#a3a3a3"}, "encoding": {"y2": {"field": "y2"}}},
        {"transform": [{"filter": "datum.k == 'obs'"}], "mark": {"type": "point", "shape": "circle", "filled": false, "size": 9, "strokeWidth": 0.7, "color": "#b5b5b5"}},
        {"transform": [{"filter": "datum.k == 'up'"}], "mark": {"type": "line", "color": "#262626", "strokeWidth": 0.9, "strokeDash": [2, 1.6]}},
        {"transform": [{"filter": "datum.k == 'dn'"}], "mark": {"type": "line", "color": "#262626", "strokeWidth": 0.9, "strokeDash": [2, 1.6]}},
        {"transform": [{"filter": "datum.k == 'med'"}], "mark": {"type": "line", "color": "#3c3c3c", "strokeWidth": 1.4}}
       ]},
      {"mark": {"type": "rule", "color": "black", "strokeWidth": 1.2},
       "encoding": {
        "x": {"datum": 8, "type": "quantitative", "scale": {"domain": [0, 8], "nice": false}, "axis": {"values": [0, 2, 4, 6, 8], "title": "Time (hours)"}},
        "y": {"datum": 0.87, "type": "quantitative", "scale": {"type": "log", "domain": [1, 100000], "nice": false},
              "axis": {"orient": "left", "values": [2,3,4,5,6,7,8,9,20,30,40,50,60,70,80,90,200,300,400,500,600,700,800,900,2000,3000,4000,5000,6000,7000,8000,9000,20000,30000,40000,50000,60000,70000,80000,90000], "labels": false, "domain": false, "tickSize": 2, "title": null}},
        "y2": {"datum": 1.15}}}
     ]},
    {"width": 157, "height": 210,
     "transform": [{"filter": "datum.p == 'B' && datum.s == 1"}],
     "layer": [
      {"encoding": {
        "x": {"field": "t", "type": "quantitative", "scale": {"domain": [160, 269], "nice": false}, "axis": {"values": [168, 192, 216, 240, 264], "title": null}},
        "y": {"field": "y", "type": "quantitative", "scale": {"type": "log", "domain": [1, 100000], "nice": false}, "axis": null}},
       "layer": [
        {"transform": [{"filter": "datum.k == 'pi'"}], "mark": {"type": "area", "color": "#d5d5d5"}, "encoding": {"y2": {"field": "y2"}}},
        {"transform": [{"filter": "datum.k == 'ci'"}], "mark": {"type": "area", "color": "#a3a3a3"}, "encoding": {"y2": {"field": "y2"}}},
        {"transform": [{"filter": "datum.k == 'obs'"}], "mark": {"type": "point", "shape": "circle", "filled": false, "size": 9, "strokeWidth": 0.7, "color": "#b5b5b5"}},
        {"transform": [{"filter": "datum.k == 'up'"}], "mark": {"type": "line", "color": "#262626", "strokeWidth": 0.9, "strokeDash": [2, 1.6]}},
        {"transform": [{"filter": "datum.k == 'dn'"}], "mark": {"type": "line", "color": "#262626", "strokeWidth": 0.9, "strokeDash": [2, 1.6]}},
        {"transform": [{"filter": "datum.k == 'med'"}], "mark": {"type": "line", "color": "#3c3c3c", "strokeWidth": 1.4}}
       ]},
      {"mark": {"type": "rule", "color": "black", "strokeWidth": 1.2},
       "encoding": {
        "x": {"datum": 160, "type": "quantitative", "scale": {"domain": [160, 269], "nice": false}, "axis": {"values": [168, 192, 216, 240, 264], "title": null}},
        "y": {"datum": 0.87, "type": "quantitative", "scale": {"type": "log", "domain": [1, 100000], "nice": false}, "axis": null},
        "y2": {"datum": 1.15}}}
     ]},
    {"width": 151, "height": 210, "title": {"text": "C", "dx": 12},
     "transform": [{"filter": "datum.p == 'C' && datum.s == 0"}], "resolve": {"axis": {"y": "independent"}},
     "layer": [
      {"encoding": {
        "x": {"field": "t", "type": "quantitative", "scale": {"domain": [0, 8], "nice": false}, "axis": {"values": [0, 2, 4, 6, 8], "title": "Time (hours)"}},
        "y": {"field": "y", "type": "quantitative", "scale": {"type": "log", "domain": [1, 100000], "nice": false}, "axis": {"values": [1, 10, 100, 1000, 10000, 100000], "format": "d", "tickSize": 3, "labelPadding": 1, "titlePadding": 4, "title": "Benzylpenicillin (ng.ml⁻¹)"}}},
       "layer": [
        {"transform": [{"filter": "datum.k == 'pi'"}], "mark": {"type": "area", "color": "#d5d5d5"}, "encoding": {"y2": {"field": "y2"}}},
        {"transform": [{"filter": "datum.k == 'ci'"}], "mark": {"type": "area", "color": "#a3a3a3"}, "encoding": {"y2": {"field": "y2"}}},
        {"transform": [{"filter": "datum.k == 'obs'"}], "mark": {"type": "point", "shape": "circle", "filled": false, "size": 9, "strokeWidth": 0.7, "color": "#b5b5b5"}},
        {"transform": [{"filter": "datum.k == 'up'"}], "mark": {"type": "line", "color": "#262626", "strokeWidth": 0.9, "strokeDash": [2, 1.6]}},
        {"transform": [{"filter": "datum.k == 'dn'"}], "mark": {"type": "line", "color": "#262626", "strokeWidth": 0.9, "strokeDash": [2, 1.6]}},
        {"transform": [{"filter": "datum.k == 'med'"}], "mark": {"type": "line", "color": "#3c3c3c", "strokeWidth": 1.4}}
       ]},
      {"mark": {"type": "rule", "color": "black", "strokeWidth": 1.2},
       "encoding": {
        "x": {"datum": 8, "type": "quantitative", "scale": {"domain": [0, 8], "nice": false}, "axis": {"values": [0, 2, 4, 6, 8], "title": "Time (hours)"}},
        "y": {"datum": 0.87, "type": "quantitative", "scale": {"type": "log", "domain": [1, 100000], "nice": false},
              "axis": {"orient": "left", "values": [2,3,4,5,6,7,8,9,20,30,40,50,60,70,80,90,200,300,400,500,600,700,800,900,2000,3000,4000,5000,6000,7000,8000,9000,20000,30000,40000,50000,60000,70000,80000,90000], "labels": false, "domain": false, "tickSize": 2, "title": null}},
        "y2": {"datum": 1.15}}}
     ]},
    {"width": 157, "height": 210,
     "transform": [{"filter": "datum.p == 'C' && datum.s == 1"}],
     "layer": [
      {"encoding": {
        "x": {"field": "t", "type": "quantitative", "scale": {"domain": [160, 269], "nice": false}, "axis": {"values": [168, 192, 216, 240, 264], "title": null}},
        "y": {"field": "y", "type": "quantitative", "scale": {"type": "log", "domain": [1, 100000], "nice": false}, "axis": null}},
       "layer": [
        {"transform": [{"filter": "datum.k == 'pi'"}], "mark": {"type": "area", "color": "#d5d5d5"}, "encoding": {"y2": {"field": "y2"}}},
        {"transform": [{"filter": "datum.k == 'ci'"}], "mark": {"type": "area", "color": "#a3a3a3"}, "encoding": {"y2": {"field": "y2"}}},
        {"transform": [{"filter": "datum.k == 'obs'"}], "mark": {"type": "point", "shape": "circle", "filled": false, "size": 9, "strokeWidth": 0.7, "color": "#b5b5b5"}},
        {"transform": [{"filter": "datum.k == 'up'"}], "mark": {"type": "line", "color": "#262626", "strokeWidth": 0.9, "strokeDash": [2, 1.6]}},
        {"transform": [{"filter": "datum.k == 'dn'"}], "mark": {"type": "line", "color": "#262626", "strokeWidth": 0.9, "strokeDash": [2, 1.6]}},
        {"transform": [{"filter": "datum.k == 'med'"}], "mark": {"type": "line", "color": "#3c3c3c", "strokeWidth": 1.4}}
       ]},
      {"mark": {"type": "rule", "color": "black", "strokeWidth": 1.2},
       "encoding": {
        "x": {"datum": 160, "type": "quantitative", "scale": {"domain": [160, 269], "nice": false}, "axis": {"values": [168, 192, 216, 240, 264], "title": null}},
        "y": {"datum": 0.87, "type": "quantitative", "scale": {"type": "log", "domain": [1, 100000], "nice": false}, "axis": null},
        "y2": {"datum": 1.15}}}
     ]},
    {"width": 85, "height": 210, "data": {"values": []}, "mark": {"type": "point", "opacity": 0}},
    {"width": 151, "height": 210, "title": {"text": "D", "dx": 17},
     "transform": [{"filter": "datum.p == 'D' && datum.s == 0"}], "resolve": {"axis": {"y": "independent"}},
     "layer": [
      {"encoding": {
        "x": {"field": "t", "type": "quantitative", "scale": {"domain": [0, 8], "nice": false}, "axis": {"values": [0, 2, 4, 6, 8], "title": "Time (hours)"}},
        "y": {"field": "y", "type": "quantitative", "scale": {"type": "log", "domain": [1, 100000], "nice": false}, "axis": {"values": [1, 10, 100, 1000, 10000, 100000], "format": "d", "tickSize": 3, "labelPadding": 1, "titlePadding": 4, "title": "Benzylpenicillin (ng.ml⁻¹)"}}},
       "layer": [
        {"transform": [{"filter": "datum.k == 'pi'"}], "mark": {"type": "area", "color": "#d5d5d5"}, "encoding": {"y2": {"field": "y2"}}},
        {"transform": [{"filter": "datum.k == 'ci'"}], "mark": {"type": "area", "color": "#a3a3a3"}, "encoding": {"y2": {"field": "y2"}}},
        {"transform": [{"filter": "datum.k == 'obs'"}], "mark": {"type": "point", "shape": "circle", "filled": false, "size": 9, "strokeWidth": 0.7, "color": "#b5b5b5"}},
        {"transform": [{"filter": "datum.k == 'up'"}], "mark": {"type": "line", "color": "#262626", "strokeWidth": 0.9, "strokeDash": [2, 1.6]}},
        {"transform": [{"filter": "datum.k == 'dn'"}], "mark": {"type": "line", "color": "#262626", "strokeWidth": 0.9, "strokeDash": [2, 1.6]}},
        {"transform": [{"filter": "datum.k == 'med'"}], "mark": {"type": "line", "color": "#3c3c3c", "strokeWidth": 1.4}}
       ]},
      {"mark": {"type": "rule", "color": "black", "strokeWidth": 1.2},
       "encoding": {
        "x": {"datum": 8, "type": "quantitative", "scale": {"domain": [0, 8], "nice": false}, "axis": {"values": [0, 2, 4, 6, 8], "title": "Time (hours)"}},
        "y": {"datum": 0.87, "type": "quantitative", "scale": {"type": "log", "domain": [1, 100000], "nice": false},
              "axis": {"orient": "left", "values": [2,3,4,5,6,7,8,9,20,30,40,50,60,70,80,90,200,300,400,500,600,700,800,900,2000,3000,4000,5000,6000,7000,8000,9000,20000,30000,40000,50000,60000,70000,80000,90000], "labels": false, "domain": false, "tickSize": 2, "title": null}},
        "y2": {"datum": 1.15}}}
     ]},
    {"width": 157, "height": 210,
     "transform": [{"filter": "datum.p == 'D' && datum.s == 1"}],
     "layer": [
      {"encoding": {
        "x": {"field": "t", "type": "quantitative", "scale": {"domain": [160, 269], "nice": false}, "axis": {"values": [168, 192, 216, 240, 264], "title": null}},
        "y": {"field": "y", "type": "quantitative", "scale": {"type": "log", "domain": [1, 100000], "nice": false}, "axis": null}},
       "layer": [
        {"transform": [{"filter": "datum.k == 'pi'"}], "mark": {"type": "area", "color": "#d5d5d5"}, "encoding": {"y2": {"field": "y2"}}},
        {"transform": [{"filter": "datum.k == 'ci'"}], "mark": {"type": "area", "color": "#a3a3a3"}, "encoding": {"y2": {"field": "y2"}}},
        {"transform": [{"filter": "datum.k == 'obs'"}], "mark": {"type": "point", "shape": "circle", "filled": false, "size": 9, "strokeWidth": 0.7, "color": "#b5b5b5"}},
        {"transform": [{"filter": "datum.k == 'up'"}], "mark": {"type": "line", "color": "#262626", "strokeWidth": 0.9, "strokeDash": [2, 1.6]}},
        {"transform": [{"filter": "datum.k == 'dn'"}], "mark": {"type": "line", "color": "#262626", "strokeWidth": 0.9, "strokeDash": [2, 1.6]}},
        {"transform": [{"filter": "datum.k == 'med'"}], "mark": {"type": "line", "color": "#3c3c3c", "strokeWidth": 1.4}}
       ]},
      {"mark": {"type": "rule", "color": "black", "strokeWidth": 1.2},
       "encoding": {
        "x": {"datum": 160, "type": "quantitative", "scale": {"domain": [160, 269], "nice": false}, "axis": {"values": [168, 192, 216, 240, 264], "title": null}},
        "y": {"datum": 0.87, "type": "quantitative", "scale": {"type": "log", "domain": [1, 100000], "nice": false}, "axis": null},
        "y2": {"datum": 1.15}}}
     ]},
    {"width": 151, "height": 210, "title": {"text": "E", "dx": 12},
     "transform": [{"filter": "datum.p == 'E' && datum.s == 0"}], "resolve": {"axis": {"y": "independent"}},
     "layer": [
      {"encoding": {
        "x": {"field": "t", "type": "quantitative", "scale": {"domain": [0, 8], "nice": false}, "axis": {"values": [0, 2, 4, 6, 8], "title": "Time (hours)"}},
        "y": {"field": "y", "type": "quantitative", "scale": {"type": "log", "domain": [1, 100000], "nice": false}, "axis": {"values": [1, 10, 100, 1000, 10000, 100000], "format": "d", "tickSize": 3, "labelPadding": 1, "titlePadding": 4, "title": "Benzylpenicillin (ng.ml⁻¹)"}}},
       "layer": [
        {"transform": [{"filter": "datum.k == 'pi'"}], "mark": {"type": "area", "color": "#d5d5d5"}, "encoding": {"y2": {"field": "y2"}}},
        {"transform": [{"filter": "datum.k == 'ci'"}], "mark": {"type": "area", "color": "#a3a3a3"}, "encoding": {"y2": {"field": "y2"}}},
        {"transform": [{"filter": "datum.k == 'obs'"}], "mark": {"type": "point", "shape": "circle", "filled": false, "size": 9, "strokeWidth": 0.7, "color": "#b5b5b5"}},
        {"transform": [{"filter": "datum.k == 'up'"}], "mark": {"type": "line", "color": "#262626", "strokeWidth": 0.9, "strokeDash": [2, 1.6]}},
        {"transform": [{"filter": "datum.k == 'dn'"}], "mark": {"type": "line", "color": "#262626", "strokeWidth": 0.9, "strokeDash": [2, 1.6]}},
        {"transform": [{"filter": "datum.k == 'med'"}], "mark": {"type": "line", "color": "#3c3c3c", "strokeWidth": 1.4}}
       ]},
      {"mark": {"type": "rule", "color": "black", "strokeWidth": 1.2},
       "encoding": {
        "x": {"datum": 8, "type": "quantitative", "scale": {"domain": [0, 8], "nice": false}, "axis": {"values": [0, 2, 4, 6, 8], "title": "Time (hours)"}},
        "y": {"datum": 0.87, "type": "quantitative", "scale": {"type": "log", "domain": [1, 100000], "nice": false},
              "axis": {"orient": "left", "values": [2,3,4,5,6,7,8,9,20,30,40,50,60,70,80,90,200,300,400,500,600,700,800,900,2000,3000,4000,5000,6000,7000,8000,9000,20000,30000,40000,50000,60000,70000,80000,90000], "labels": false, "domain": false, "tickSize": 2, "title": null}},
        "y2": {"datum": 1.15}}}
     ]},
    {"width": 157, "height": 210,
     "transform": [{"filter": "datum.p == 'E' && datum.s == 1"}],
     "layer": [
      {"encoding": {
        "x": {"field": "t", "type": "quantitative", "scale": {"domain": [160, 269], "nice": false}, "axis": {"values": [168, 192, 216, 240, 264], "title": null}},
        "y": {"field": "y", "type": "quantitative", "scale": {"type": "log", "domain": [1, 100000], "nice": false}, "axis": null}},
       "layer": [
        {"transform": [{"filter": "datum.k == 'pi'"}], "mark": {"type": "area", "color": "#d5d5d5"}, "encoding": {"y2": {"field": "y2"}}},
        {"transform": [{"filter": "datum.k == 'ci'"}], "mark": {"type": "area", "color": "#a3a3a3"}, "encoding": {"y2": {"field": "y2"}}},
        {"transform": [{"filter": "datum.k == 'obs'"}], "mark": {"type": "point", "shape": "circle", "filled": false, "size": 9, "strokeWidth": 0.7, "color": "#b5b5b5"}},
        {"transform": [{"filter": "datum.k == 'up'"}], "mark": {"type": "line", "color": "#262626", "strokeWidth": 0.9, "strokeDash": [2, 1.6]}},
        {"transform": [{"filter": "datum.k == 'dn'"}], "mark": {"type": "line", "color": "#262626", "strokeWidth": 0.9, "strokeDash": [2, 1.6]}},
        {"transform": [{"filter": "datum.k == 'med'"}], "mark": {"type": "line", "color": "#3c3c3c", "strokeWidth": 1.4}}
       ]},
      {"mark": {"type": "rule", "color": "black", "strokeWidth": 1.2},
       "encoding": {
        "x": {"datum": 160, "type": "quantitative", "scale": {"domain": [160, 269], "nice": false}, "axis": {"values": [168, 192, 216, 240, 264], "title": null}},
        "y": {"datum": 0.87, "type": "quantitative", "scale": {"type": "log", "domain": [1, 100000], "nice": false}, "axis": null},
        "y2": {"datum": 1.15}}}
     ]},
    {"width": 85, "height": 210, "data": {"values": []}, "mark": {"type": "point", "opacity": 0}},
    {"width": 151, "height": 210, "title": {"text": "F", "dx": 17},
     "transform": [{"filter": "datum.p == 'F' && datum.s == 0"}], "resolve": {"axis": {"y": "independent"}},
     "layer": [
      {"encoding": {
        "x": {"field": "t", "type": "quantitative", "scale": {"domain": [0, 8], "nice": false}, "axis": {"values": [0, 2, 4, 6, 8], "title": "Time (hours)"}},
        "y": {"field": "y", "type": "quantitative", "scale": {"type": "log", "domain": [1, 100000], "nice": false}, "axis": {"values": [1, 10, 100, 1000, 10000, 100000], "format": "d", "tickSize": 3, "labelPadding": 1, "titlePadding": 4, "title": "Benzylpenicillin (ng.ml⁻¹)"}}},
       "layer": [
        {"transform": [{"filter": "datum.k == 'pi'"}], "mark": {"type": "area", "color": "#d5d5d5"}, "encoding": {"y2": {"field": "y2"}}},
        {"transform": [{"filter": "datum.k == 'ci'"}], "mark": {"type": "area", "color": "#a3a3a3"}, "encoding": {"y2": {"field": "y2"}}},
        {"transform": [{"filter": "datum.k == 'obs'"}], "mark": {"type": "point", "shape": "circle", "filled": false, "size": 9, "strokeWidth": 0.7, "color": "#b5b5b5"}},
        {"transform": [{"filter": "datum.k == 'up'"}], "mark": {"type": "line", "color": "#262626", "strokeWidth": 0.9, "strokeDash": [2, 1.6]}},
        {"transform": [{"filter": "datum.k == 'dn'"}], "mark": {"type": "line", "color": "#262626", "strokeWidth": 0.9, "strokeDash": [2, 1.6]}},
        {"transform": [{"filter": "datum.k == 'med'"}], "mark": {"type": "line", "color": "#3c3c3c", "strokeWidth": 1.4}}
       ]},
      {"mark": {"type": "rule", "color": "black", "strokeWidth": 1.2},
       "encoding": {
        "x": {"datum": 8, "type": "quantitative", "scale": {"domain": [0, 8], "nice": false}, "axis": {"values": [0, 2, 4, 6, 8], "title": "Time (hours)"}},
        "y": {"datum": 0.87, "type": "quantitative", "scale": {"type": "log", "domain": [1, 100000], "nice": false},
              "axis": {"orient": "left", "values": [2,3,4,5,6,7,8,9,20,30,40,50,60,70,80,90,200,300,400,500,600,700,800,900,2000,3000,4000,5000,6000,7000,8000,9000,20000,30000,40000,50000,60000,70000,80000,90000], "labels": false, "domain": false, "tickSize": 2, "title": null}},
        "y2": {"datum": 1.15}}}
     ]},
    {"width": 157, "height": 210,
     "transform": [{"filter": "datum.p == 'F' && datum.s == 1"}],
     "layer": [
      {"encoding": {
        "x": {"field": "t", "type": "quantitative", "scale": {"domain": [160, 269], "nice": false}, "axis": {"values": [168, 192, 216, 240, 264], "title": null}},
        "y": {"field": "y", "type": "quantitative", "scale": {"type": "log", "domain": [1, 100000], "nice": false}, "axis": null}},
       "layer": [
        {"transform": [{"filter": "datum.k == 'pi'"}], "mark": {"type": "area", "color": "#d5d5d5"}, "encoding": {"y2": {"field": "y2"}}},
        {"transform": [{"filter": "datum.k == 'ci'"}], "mark": {"type": "area", "color": "#a3a3a3"}, "encoding": {"y2": {"field": "y2"}}},
        {"transform": [{"filter": "datum.k == 'obs'"}], "mark": {"type": "point", "shape": "circle", "filled": false, "size": 9, "strokeWidth": 0.7, "color": "#b5b5b5"}},
        {"transform": [{"filter": "datum.k == 'up'"}], "mark": {"type": "line", "color": "#262626", "strokeWidth": 0.9, "strokeDash": [2, 1.6]}},
        {"transform": [{"filter": "datum.k == 'dn'"}], "mark": {"type": "line", "color": "#262626", "strokeWidth": 0.9, "strokeDash": [2, 1.6]}},
        {"transform": [{"filter": "datum.k == 'med'"}], "mark": {"type": "line", "color": "#3c3c3c", "strokeWidth": 1.4}}
       ]},
      {"mark": {"type": "rule", "color": "black", "strokeWidth": 1.2},
       "encoding": {
        "x": {"datum": 160, "type": "quantitative", "scale": {"domain": [160, 269], "nice": false}, "axis": {"values": [168, 192, 216, 240, 264], "title": null}},
        "y": {"datum": 0.87, "type": "quantitative", "scale": {"type": "log", "domain": [1, 100000], "nice": false}, "axis": null},
        "y2": {"datum": 1.15}}}
     ]}
  ]
}
